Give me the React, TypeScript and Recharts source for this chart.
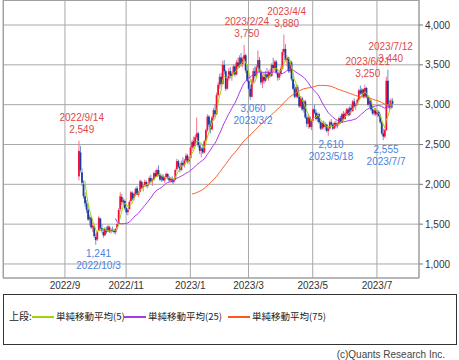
import React from 'react';
import { ComposedChart, Bar, Line, XAxis, YAxis, CartesianGrid, ReferenceDot } from 'recharts';

// trading days before the first candle that are still on the axis
const PRE_SEP_DAYS = [1, 2, 5, 6, 7, 8, 9, 12, 13];

const DAYS_2022_09 = [14, 15, 16, 20, 21, 22, 26, 27, 28, 29, 30];
const OHLC_2022_09 = [
  [2100, 2549, 2050, 2420], [2400, 2480, 2150, 2180], [2150, 2200, 1980, 2020], [2000, 2050, 1820, 1850],
  [1850, 1900, 1720, 1760], [1760, 1800, 1640, 1680], [1680, 1720, 1540, 1560], [1560, 1620, 1480, 1590],
  [1580, 1600, 1440, 1460], [1460, 1520, 1400, 1480], [1470, 1490, 1330, 1350],
];

const DAYS_2022_10 = [3, 4, 5, 6, 7, 11, 12, 13, 14, 17, 18, 19, 20, 21, 24, 25, 26, 27, 28, 31];
const OHLC_2022_10 = [
  [1340, 1380, 1241, 1300], [1310, 1420, 1290, 1400], [1420, 1600, 1410, 1580], [1570, 1580, 1430, 1450],
  [1450, 1500, 1390, 1420], [1400, 1440, 1330, 1360], [1360, 1460, 1350, 1440], [1430, 1470, 1380, 1400],
  [1410, 1490, 1400, 1470], [1460, 1480, 1390, 1410], [1410, 1450, 1380, 1430], [1430, 1470, 1400, 1420],
  [1420, 1440, 1380, 1400], [1400, 1450, 1370, 1440], [1450, 1520, 1430, 1500], [1510, 1700, 1500, 1680],
  [1690, 1900, 1660, 1850], [1840, 1880, 1740, 1780], [1770, 1830, 1720, 1800], [1790, 1810, 1680, 1700],
];

const DAYS_2022_11 = [1, 2, 4, 7, 8, 9, 10, 11, 14, 15, 16, 17, 18, 21, 22, 24, 25, 28, 29, 30];
const OHLC_2022_11 = [
  [1700, 1720, 1620, 1650], [1650, 1700, 1610, 1680], [1690, 1800, 1680, 1780], [1790, 1920, 1770, 1900],
  [1890, 1910, 1800, 1820], [1830, 1900, 1800, 1880], [1880, 1960, 1850, 1940], [1950, 1980, 1860, 1870],
  [1870, 1920, 1840, 1900], [1910, 2060, 1900, 2040], [2030, 2050, 1940, 1960], [1960, 2000, 1910, 1980],
  [1990, 2060, 1970, 2030], [2030, 2050, 1960, 1980], [1980, 2020, 1950, 2000], [2010, 2100, 2000, 2080],
  [2080, 2120, 2020, 2040], [2040, 2080, 1980, 2060], [2060, 2160, 2050, 2140], [2140, 2180, 2080, 2100],
];

const DAYS_2022_12 = [1, 2, 5, 6, 7, 8, 9, 12, 13, 14, 15, 16, 19, 20, 21, 22, 23, 26, 27, 28, 29, 30];
const OHLC_2022_12 = [
  [2100, 2200, 2090, 2180], [2180, 2240, 2100, 2120], [2120, 2140, 2040, 2060], [2060, 2120, 2030, 2100],
  [2100, 2130, 2040, 2050], [2050, 2100, 2020, 2090], [2090, 2150, 2070, 2130], [2130, 2140, 2060, 2080],
  [2080, 2110, 2030, 2050], [2050, 2090, 2020, 2070], [2070, 2100, 2010, 2030], [2030, 2080, 2000, 2060],
  [2060, 2200, 2050, 2180], [2190, 2320, 2170, 2290], [2290, 2310, 2200, 2220], [2220, 2260, 2150, 2180],
  [2180, 2300, 2170, 2270], [2270, 2340, 2220, 2240], [2240, 2320, 2210, 2300], [2300, 2390, 2280, 2360],
  [2360, 2380, 2260, 2280], [2290, 2340, 2250, 2320],
];

const DAYS_2023_01 = [4, 5, 6, 10, 11, 12, 13, 16, 17, 18, 19, 20, 23, 24, 25, 26, 27, 30, 31];
const OHLC_2023_01 = [
  [2330, 2480, 2320, 2460], [2460, 2560, 2420, 2530], [2540, 2600, 2450, 2480], [2480, 2620, 2470, 2590],
  [2590, 2840, 2560, 2640], [2640, 2660, 2460, 2490], [2490, 2520, 2380, 2420], [2420, 2470, 2340, 2450],
  [2450, 2500, 2380, 2400], [2400, 2560, 2390, 2540], [2550, 2700, 2530, 2680], [2680, 2880, 2660, 2850],
  [2850, 2870, 2720, 2750], [2750, 2800, 2640, 2690], [2690, 2860, 2680, 2840], [2840, 2960, 2800, 2930],
  [2930, 3010, 2850, 2880], [2880, 3150, 2870, 3120], [3120, 3280, 3100, 3250],
];

const DAYS_2023_02 = [1, 2, 3, 6, 7, 8, 9, 10, 13, 14, 15, 16, 17, 20, 21, 22, 24, 27, 28];
const OHLC_2023_02 = [
  [3250, 3390, 3200, 3350], [3350, 3400, 3220, 3260], [3260, 3550, 3250, 3500], [3500, 3560, 3380, 3420],
  [3420, 3440, 3170, 3200], [3200, 3360, 3190, 3330], [3330, 3460, 3300, 3420], [3420, 3470, 3330, 3360],
  [3360, 3420, 3300, 3390], [3390, 3510, 3370, 3480], [3480, 3500, 3350, 3380], [3380, 3560, 3370, 3530],
  [3530, 3590, 3450, 3480], [3480, 3620, 3460, 3590], [3590, 3650, 3480, 3510], [3510, 3600, 3470, 3570],
  [3570, 3750, 3540, 3620], [3620, 3640, 3400, 3430], [3430, 3510, 3280, 3300],
];

const DAYS_2023_03 = [1, 2, 3, 6, 7, 8, 9, 10, 13, 14, 15, 16, 17, 20, 22, 23, 24, 27, 28, 29, 30, 31];
const OHLC_2023_03 = [
  [3300, 3340, 3180, 3200], [3200, 3250, 3060, 3100], [3100, 3320, 3090, 3290], [3290, 3460, 3270, 3420],
  [3420, 3480, 3330, 3360], [3360, 3500, 3340, 3470], [3470, 3680, 3450, 3560], [3560, 3600, 3400, 3420],
  [3420, 3440, 3250, 3280], [3280, 3380, 3210, 3350], [3350, 3400, 3260, 3300], [3300, 3420, 3280, 3380],
  [3380, 3460, 3320, 3340], [3340, 3430, 3300, 3410], [3410, 3450, 3340, 3360], [3360, 3520, 3350, 3500],
  [3500, 3590, 3440, 3460], [3460, 3560, 3430, 3540], [3540, 3560, 3380, 3400], [3400, 3440, 3300, 3340],
  [3340, 3420, 3310, 3390], [3390, 3480, 3360, 3450],
];

const DAYS_2023_04 = [3, 4, 5, 6, 7, 10, 11, 12, 13, 14, 17, 18, 19, 20, 21, 24, 25, 26, 27, 28];
const OHLC_2023_04 = [
  [3450, 3700, 3440, 3660], [3660, 3880, 3620, 3700], [3700, 3760, 3540, 3560], [3560, 3620, 3480, 3590],
  [3590, 3600, 3400, 3420], [3420, 3560, 3400, 3530], [3530, 3550, 3300, 3320], [3320, 3360, 3180, 3200],
  [3200, 3260, 3080, 3100], [3100, 3240, 3080, 3220], [3220, 3250, 3080, 3100], [3100, 3150, 2960, 2980],
  [2980, 3110, 2960, 3080], [3080, 3100, 2920, 2940], [2940, 3060, 2900, 3040], [3040, 3060, 2820, 2840],
  [2840, 2880, 2720, 2760], [2760, 2870, 2700, 2840], [2840, 2860, 2700, 2720], [2720, 2820, 2680, 2800],
];

const DAYS_2023_05 = [1, 2, 8, 9, 10, 11, 12, 15, 16, 17, 18, 19, 22, 23, 24, 25, 26, 29, 30, 31];
const OHLC_2023_05 = [
  [2800, 2960, 2790, 2940], [2940, 3000, 2880, 2900], [2900, 2940, 2800, 2820], [2820, 2900, 2780, 2880],
  [2880, 2900, 2760, 2780], [2780, 2800, 2680, 2700], [2700, 2790, 2680, 2770], [2770, 2800, 2700, 2720],
  [2720, 2780, 2680, 2750], [2750, 2760, 2650, 2670], [2670, 2720, 2610, 2700], [2700, 2800, 2690, 2780],
  [2780, 2820, 2730, 2750], [2750, 2770, 2680, 2700], [2700, 2790, 2690, 2770], [2770, 2800, 2710, 2730],
  [2730, 2780, 2700, 2760], [2760, 2850, 2740, 2830], [2830, 2860, 2760, 2780], [2780, 2900, 2770, 2880],
];

const DAYS_2023_06 = [1, 2, 5, 6, 7, 8, 9, 12, 13, 14, 15, 16, 19, 20, 21, 22, 23, 26, 27, 28, 29, 30];
const OHLC_2023_06 = [
  [2880, 2920, 2800, 2820], [2820, 2910, 2810, 2890], [2890, 2960, 2860, 2940], [2940, 2960, 2850, 2870],
  [2870, 2980, 2860, 2960], [2960, 3000, 2900, 2920], [2920, 3060, 2910, 3040], [3040, 3080, 2960, 2980],
  [2980, 3020, 2930, 3000], [3000, 3080, 2990, 3060], [3060, 3200, 3040, 3180], [3180, 3240, 3120, 3140],
  [3140, 3210, 3110, 3190], [3190, 3200, 3080, 3100], [3100, 3250, 3090, 3210], [3210, 3220, 3080, 3100],
  [3100, 3120, 2980, 3000], [3000, 3080, 2960, 3050], [3050, 3060, 2920, 2940], [2940, 2980, 2870, 2890],
  [2890, 2950, 2860, 2930], [2930, 2960, 2860, 2880],
];

const DAYS_2023_07 = [3, 4, 5, 6, 7, 10, 11, 12, 13, 14, 18];
const OHLC_2023_07 = [
  [2880, 2940, 2850, 2910], [2910, 2930, 2840, 2860], [2860, 2890, 2760, 2780], [2780, 2800, 2620, 2640],
  [2640, 2700, 2555, 2600], [2600, 2700, 2580, 2680], [2680, 3350, 2670, 3300], [3300, 3440, 2950, 3000],
  [3000, 3060, 2920, 2960], [2960, 3080, 2940, 3050], [3050, 3080, 2960, 3010],
];

const MONTHS: [string, number[], number[][]][] = [
  ['2022/9', DAYS_2022_09, OHLC_2022_09],
  ['2022/10', DAYS_2022_10, OHLC_2022_10],
  ['2022/11', DAYS_2022_11, OHLC_2022_11],
  ['2022/12', DAYS_2022_12, OHLC_2022_12],
  ['2023/1', DAYS_2023_01, OHLC_2023_01],
  ['2023/2', DAYS_2023_02, OHLC_2023_02],
  ['2023/3', DAYS_2023_03, OHLC_2023_03],
  ['2023/4', DAYS_2023_04, OHLC_2023_04],
  ['2023/5', DAYS_2023_05, OHLC_2023_05],
  ['2023/6', DAYS_2023_06, OHLC_2023_06],
  ['2023/7', DAYS_2023_07, OHLC_2023_07],
];

const X_TICKS = ['2022/9/1', '2022/11/1', '2023/1/4', '2023/3/1', '2023/5/1', '2023/7/3'];
const Y_TICKS = [1000, 1500, 2000, 2500, 3000, 3500, 4000];

const HIGH_MARKS = [
  { date: '2022/9/14', value: 2549 },
  { date: '2023/2/24', value: 3750 },
  { date: '2023/4/4', value: 3880 },
  { date: '2023/6/21', value: 3250 },
  { date: '2023/7/12', value: 3440 },
];
const LOW_MARKS = [
  { date: '2022/10/3', value: 1241 },
  { date: '2023/3/2', value: 3060 },
  { date: '2023/5/18', value: 2610 },
  { date: '2023/7/7', value: 2555 },
];

const MA_PERIODS = [5, 25, 75];
const MA_COLORS = ['#9fd40a', '#a838e8', '#ff5722'];

const UP = '#f0103c';
const UP_WICK = '#f7708a';
const DOWN = '#1c3c98';
const DOWN_WICK = '#6b93d8';

const FONT = "'Liberation Sans', Arial, sans-serif";
const JP_FONT = "'Noto Sans CJK JP', sans-serif";

// empty slots so the axis runs from summer 2022 to summer 2023 like the original
const rows: any[] = [];
for (let i = 0; i < 40; i++) rows.push({ key: `pre${i}` });
PRE_SEP_DAYS.forEach((d) => rows.push({ key: `2022/9/${d}` }));
const closes: number[] = [];
MONTHS.forEach(([ym, days, ohlc]) => {
  days.forEach((d, i) => {
    const [open, high, low, close] = ohlc[i];
    closes.push(close);
    const row: any = { key: `${ym}/${d}`, open, high, low, close, range: [low, high] };
    MA_PERIODS.forEach((n) => {
      const k = closes.length;
      if (k >= n) {
        const s = closes.slice(k - n).reduce((a, b) => a + b, 0);
        row[`ma${n}`] = Math.round((s / n) * 10) / 10;
      }
    });
    rows.push(row);
  });
});
for (let i = 0; i < 17; i++) rows.push({ key: `post${i}` });

const Candle = (props: any) => {
  const { x, y, width, height, payload } = props;
  if (!payload || payload.open == null || !height) return null;
  const { open, close, high, low } = payload;
  const py = (v: number) => y + ((high - v) / (high - low)) * height;
  const cx = x + width / 2;
  const up = close >= open;
  const top = py(Math.max(open, close));
  const bot = py(Math.min(open, close));
  return (
    <g>
      <line x1={cx} x2={cx} y1={y} y2={y + height} stroke={up ? UP_WICK : DOWN_WICK} strokeWidth={1} />
      <rect x={cx - 0.9} y={top} width={1.8} height={Math.max(bot - top, 1)} fill={up ? UP : DOWN} />
    </g>
  );
};

const markLabel = (lines: [string, string], offs: [number, number], color: string) => (p: any) => (
  <g>
    <text x={p.cx + 3} y={p.cy + offs[0]} textAnchor="middle" dominantBaseline="central" fill={color} fontSize={10} fontFamily={FONT}>
      {lines[0]}
    </text>
    <text x={p.cx + 3} y={p.cy + offs[1]} textAnchor="middle" dominantBaseline="central" fill={color} fontSize={10} fontFamily={FONT}>
      {lines[1]}
    </text>
  </g>
);

const fmt = (v: number) => v.toLocaleString('en-US');

const LEGEND_ITEMS = ['単純移動平均(5)', '単純移動平均(25)', '単純移動平均(75)'];
const LEGEND_X = [31, 123, 227];

export default function App() {
  return (
    <div style={{ position: 'absolute', left: 0, top: 0, width: 459, height: 360, background: '#fff', fontFamily: FONT }}>
      <ComposedChart
        width={459}
        height={300}
        data={rows}
        margin={{ top: 0, right: 0, bottom: 0, left: 3 }}
        barCategoryGap={0}
        barGap={0}
      >
        <CartesianGrid stroke="#a8a8a8" />
        <XAxis
          dataKey="key"
          ticks={X_TICKS}
          interval={0}
          tickFormatter={(s: string) => s.split('/').slice(0, 2).join('/')}
          tickLine={false}
          tickSize={0}
          tickMargin={4}
          height={22}
          axisLine={{ stroke: '#999' }}
          tick={{ fill: '#333', fontSize: 10, fontFamily: FONT }}
        />
        <YAxis
          orientation="right"
          domain={[824, 4314]}
          allowDataOverflow
          ticks={Y_TICKS}
          tickFormatter={fmt}
          width={40}
          tickSize={4}
          tickMargin={2}
          axisLine={{ stroke: '#999' }}
          tickLine={{ stroke: '#777' }}
          tick={{ fill: '#333', fontSize: 10, fontFamily: FONT }}
        />
        <Bar dataKey="range" shape={Candle} isAnimationActive={false} />
        {MA_PERIODS.map((n, i) => (
          <Line
            key={n}
            dataKey={`ma${n}`}
            stroke={MA_COLORS[i]}
            strokeWidth={1}
            dot={false}
            activeDot={false}
            isAnimationActive={false}
          />
        ))}
        {HIGH_MARKS.map((m) => (
          <ReferenceDot
            key={m.date}
            x={m.date}
            y={m.value}
            r={0}
            shape={markLabel([m.date, fmt(m.value)], [-23, -11], '#e04848')}
          />
        ))}
        {LOW_MARKS.map((m) => (
          <ReferenceDot
            key={m.date}
            x={m.date}
            y={m.value}
            r={0}
            shape={markLabel([fmt(m.value), m.date], [9, 21], '#4a7fe0')}
          />
        ))}
      </ComposedChart>
      <div style={{ position: 'absolute', left: 3, top: 0, width: 416, height: 278, border: '1px solid #a0a0a0', borderRight: 'none', borderBottom: 'none', boxSizing: 'border-box', pointerEvents: 'none' }} />
      <div style={{ position: 'absolute', left: 3, top: 294, width: 454, height: 51, border: '1px solid #333', boxSizing: 'border-box', background: '#fff' }}>
        <span style={{ position: 'absolute', left: 5, top: 14, fontSize: 10, color: '#222', fontFamily: JP_FONT, lineHeight: '14px' }}>上段:</span>
        {LEGEND_ITEMS.map((t, i) => (
          <React.Fragment key={t}>
            <div style={{ position: 'absolute', left: LEGEND_X[i] - 3, top: 21, width: 22, height: 1.5, background: MA_COLORS[i] }} />
            <span style={{ position: 'absolute', left: LEGEND_X[i] + 21, top: 14, fontSize: 9.5, color: '#222', fontFamily: JP_FONT, lineHeight: '14px', whiteSpace: 'nowrap' }}>{t}</span>
          </React.Fragment>
        ))}
      </div>
      <div style={{ position: 'absolute', right: 14, top: 349, fontSize: 10, color: '#444', lineHeight: '12px' }}>(c)Quants Research Inc.</div>
    </div>
  );
}
